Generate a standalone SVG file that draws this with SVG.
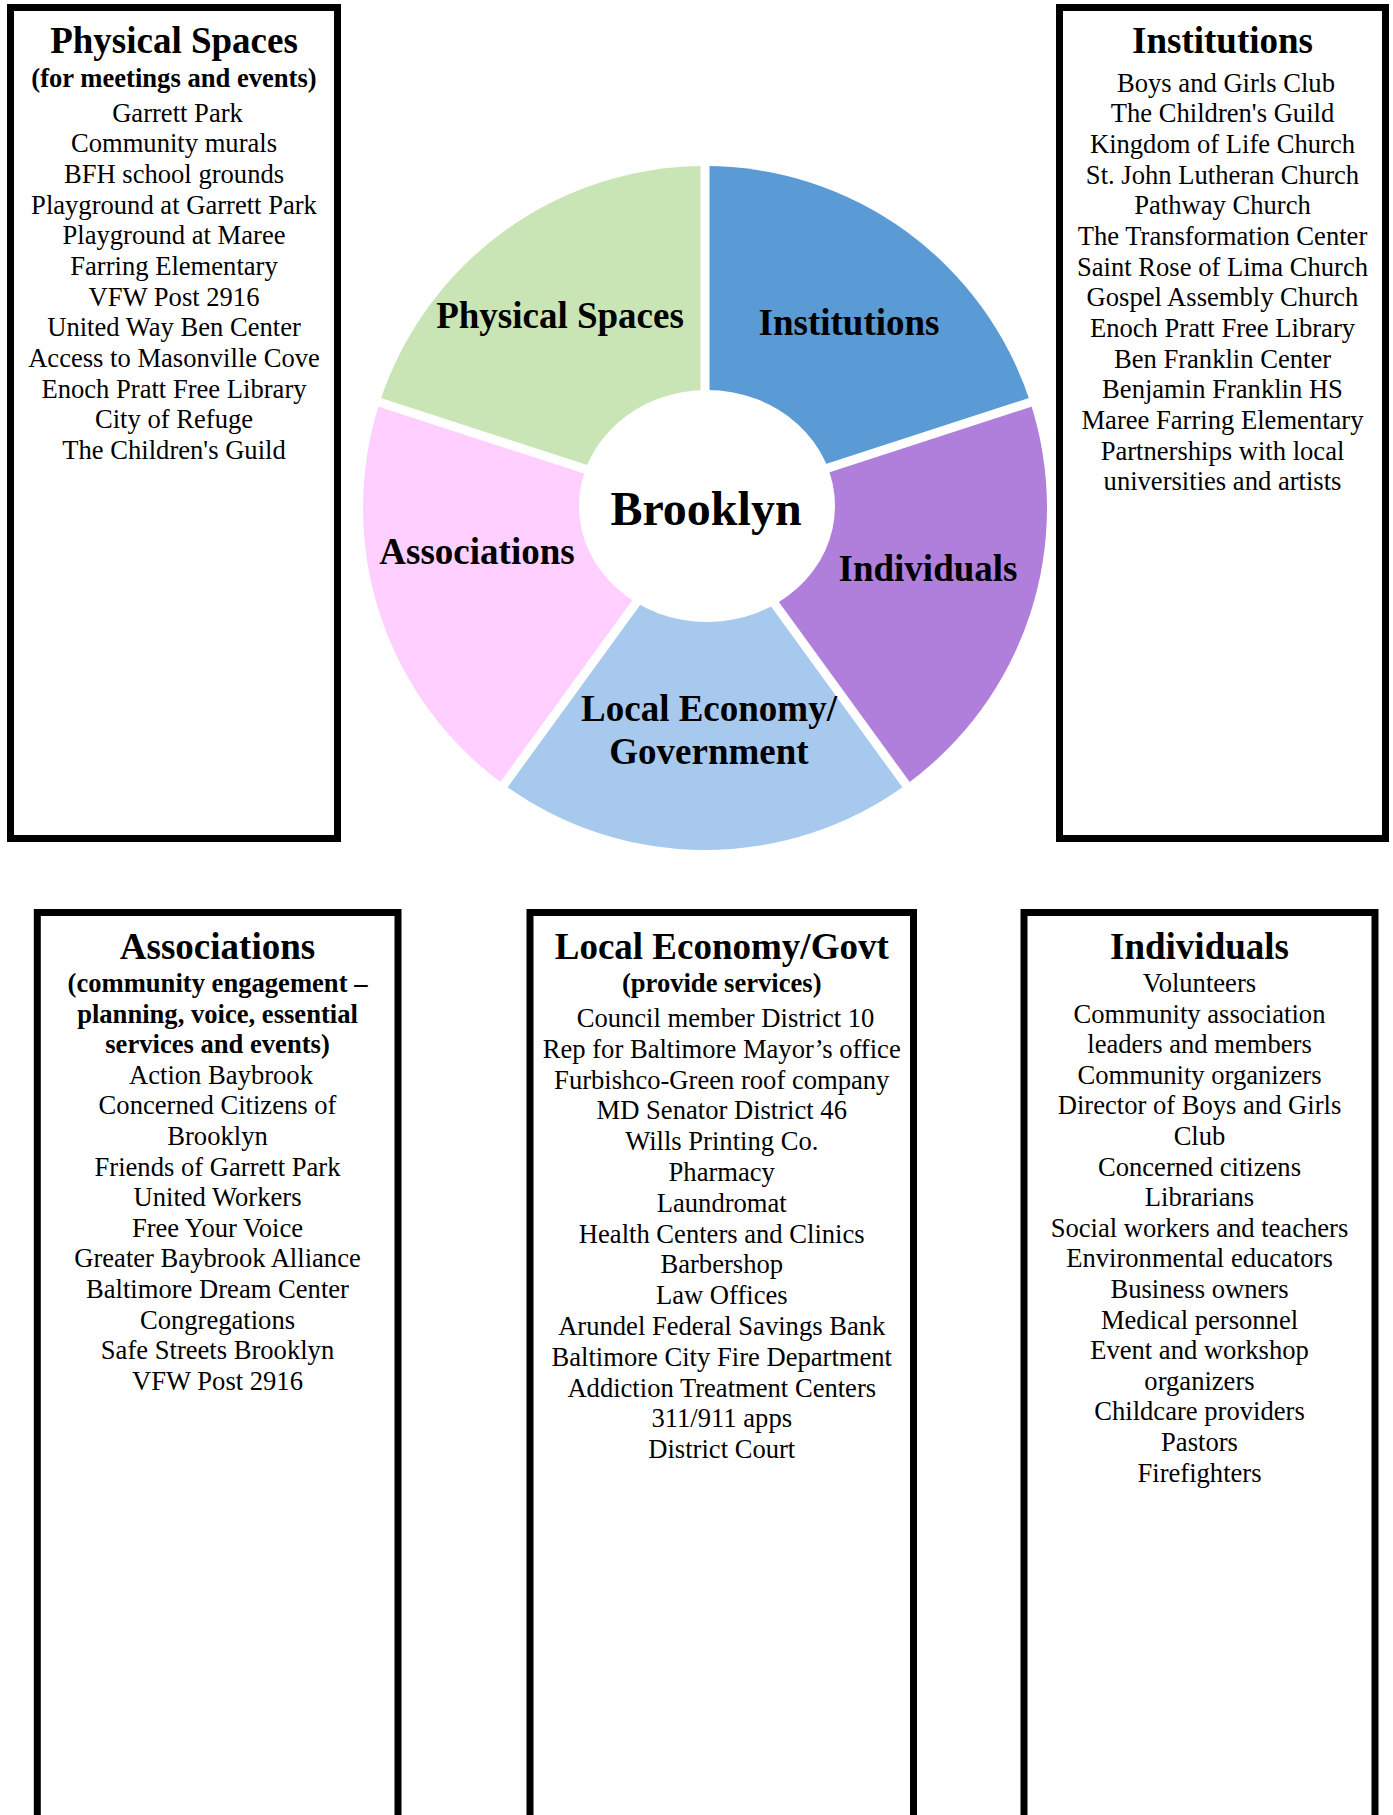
<svg xmlns="http://www.w3.org/2000/svg" width="1393" height="1815" viewBox="0 0 1393 1815">
  <style>
    .box { fill: none; stroke: #000; stroke-width: 7; }
    text { font-family: "Liberation Serif", "Times New Roman", serif; fill: #000; text-anchor: middle; }
    .title { font-size: 37px; font-weight: bold; }
    .sub { font-size: 26.6px; font-weight: bold; }
    .item { font-size: 26.6px; }
    .seg-label { font-size: 37px; font-weight: bold; }
    .hub { font-size: 48px; font-weight: bold; }
    .gap { stroke: #fff; stroke-width: 9; }
  </style>
  <rect width="1393" height="1815" fill="#fff"/>

  <!-- Asset wheel: five wedges split by white gaps around a white hub -->
  <g id="wheel">
    <g id="seg-institutions">
      <path d="M705,508 L705,166 A342,342 0 0 1 1030.27,402.32 Z" fill="#5B9BD5"/>
    </g>
    <g id="seg-individuals">
      <path d="M705,508 L1030.27,402.32 A342,342 0 0 1 906.03,784.68 Z" fill="#B07FDB"/>
    </g>
    <g id="seg-local-economy">
      <path d="M705,508 L906.03,784.68 A342,342 0 0 1 503.97,784.68 Z" fill="#A7C9EE"/>
    </g>
    <g id="seg-associations">
      <path d="M705,508 L503.97,784.68 A342,342 0 0 1 379.73,402.32 Z" fill="#FFD0FF"/>
    </g>
    <g id="seg-physical">
      <path d="M705,508 L379.73,402.32 A342,342 0 0 1 705,166 Z" fill="#C9E5B5"/>
    </g>
    <g id="wheel-gaps">
      <line class="gap" x1="705" y1="508" x2="705" y2="148"/>
      <line class="gap" x1="705" y1="508" x2="1047.4" y2="396.8"/>
      <line class="gap" x1="705" y1="508" x2="916.6" y2="799.2"/>
      <line class="gap" x1="705" y1="508" x2="493.4" y2="799.2"/>
      <line class="gap" x1="705" y1="508" x2="362.6" y2="396.8"/>
    </g>
    <g id="hub">
      <ellipse cx="707" cy="506" rx="128" ry="116" fill="#fff"/>
      <text class="hub" x="706" y="525">Brooklyn</text>
    </g>
    <text class="seg-label" x="560" y="328">Physical Spaces</text>
    <text class="seg-label" x="849" y="335">Institutions</text>
    <text class="seg-label" x="477" y="564">Associations</text>
    <text class="seg-label" x="928" y="581">Individuals</text>
    <text class="seg-label" x="709" y="721">Local Economy/</text>
    <text class="seg-label" x="709" y="764">Government</text>
  </g>

  <!-- Physical Spaces list -->
  <g id="box-physical">
    <rect class="box" x="10.5" y="7.5" width="327" height="831"/>
    <text class="title" x="174" y="53.3">Physical Spaces</text>
    <text class="sub" x="174" y="86.5">(for meetings and events)</text>
    <text class="item" x="177.5" y="121.7">Garrett Park</text>
    <text class="item" x="174" y="152.4">Community murals</text>
    <text class="item" x="174" y="183">BFH school grounds</text>
    <text class="item" x="174" y="213.7">Playground at Garrett Park</text>
    <text class="item" x="174" y="244.3">Playground at Maree</text>
    <text class="item" x="174" y="275">Farring Elementary</text>
    <text class="item" x="174" y="305.6">VFW Post 2916</text>
    <text class="item" x="174" y="336.3">United Way Ben Center</text>
    <text class="item" x="174" y="366.9">Access to Masonville Cove</text>
    <text class="item" x="174" y="397.6">Enoch Pratt Free Library</text>
    <text class="item" x="174" y="428.2">City of Refuge</text>
    <text class="item" x="174" y="458.9">The Children's Guild</text>
  </g>

  <!-- Institutions list -->
  <g id="box-institutions">
    <rect class="box" x="1059.5" y="7.5" width="326" height="831"/>
    <text class="title" x="1222.5" y="53.3">Institutions</text>
    <text class="item" x="1226" y="91.7">Boys and Girls Club</text>
    <text class="item" x="1222.5" y="122.4">The Children's Guild</text>
    <text class="item" x="1222.5" y="153">Kingdom of Life Church</text>
    <text class="item" x="1222.5" y="183.7">St. John Lutheran Church</text>
    <text class="item" x="1222.5" y="214.3">Pathway Church</text>
    <text class="item" x="1222.5" y="245">The Transformation Center</text>
    <text class="item" x="1222.5" y="275.6">Saint Rose of Lima Church</text>
    <text class="item" x="1222.5" y="306.3">Gospel Assembly Church</text>
    <text class="item" x="1222.5" y="336.9">Enoch Pratt Free Library</text>
    <text class="item" x="1222.5" y="367.6">Ben Franklin Center</text>
    <text class="item" x="1222.5" y="398.2">Benjamin Franklin HS</text>
    <text class="item" x="1222.5" y="428.9">Maree Farring Elementary</text>
    <text class="item" x="1222.5" y="459.5">Partnerships with local</text>
    <text class="item" x="1222.5" y="490.2">universities and artists</text>
  </g>

  <!-- Associations list (box runs off the bottom edge) -->
  <g id="box-associations">
    <rect class="box" x="37.3" y="912.5" width="360.7" height="940"/>
    <text class="title" x="217.5" y="959">Associations</text>
    <text class="sub" x="217.5" y="992">(community engagement –</text>
    <text class="sub" x="217.5" y="1022.6">planning, voice, essential</text>
    <text class="sub" x="217.5" y="1053.2">services and events)</text>
    <text class="item" x="221" y="1083.8">Action Baybrook</text>
    <text class="item" x="217.5" y="1114.4">Concerned Citizens of</text>
    <text class="item" x="217.5" y="1145">Brooklyn</text>
    <text class="item" x="217.5" y="1175.6">Friends of Garrett Park</text>
    <text class="item" x="217.5" y="1206.2">United Workers</text>
    <text class="item" x="217.5" y="1236.8">Free Your Voice</text>
    <text class="item" x="217.5" y="1267.4">Greater Baybrook Alliance</text>
    <text class="item" x="217.5" y="1298">Baltimore Dream Center</text>
    <text class="item" x="217.5" y="1328.6">Congregations</text>
    <text class="item" x="217.5" y="1359.2">Safe Streets Brooklyn</text>
    <text class="item" x="217.5" y="1389.8">VFW Post 2916</text>
  </g>

  <!-- Local Economy / Government list -->
  <g id="box-local-economy">
    <rect class="box" x="530" y="912.5" width="383.5" height="940"/>
    <text class="title" x="721.75" y="959">Local Economy/Govt</text>
    <text class="sub" x="721.75" y="991.6">(provide services)</text>
    <text class="item" x="725.5" y="1027">Council member District 10</text>
    <text class="item" x="721.75" y="1057.8">Rep for Baltimore Mayor’s office</text>
    <text class="item" x="721.75" y="1088.6">Furbishco-Green roof company</text>
    <text class="item" x="721.75" y="1119.4">MD Senator District 46</text>
    <text class="item" x="721.75" y="1150.2">Wills Printing Co.</text>
    <text class="item" x="721.75" y="1181">Pharmacy</text>
    <text class="item" x="721.75" y="1211.8">Laundromat</text>
    <text class="item" x="721.75" y="1242.6">Health Centers and Clinics</text>
    <text class="item" x="721.75" y="1273.4">Barbershop</text>
    <text class="item" x="721.75" y="1304.2">Law Offices</text>
    <text class="item" x="721.75" y="1335">Arundel Federal Savings Bank</text>
    <text class="item" x="721.75" y="1365.8">Baltimore City Fire Department</text>
    <text class="item" x="721.75" y="1396.6">Addiction Treatment Centers</text>
    <text class="item" x="721.75" y="1427.4">311/911 apps</text>
    <text class="item" x="721.75" y="1458.2">District Court</text>
  </g>

  <!-- Individuals list -->
  <g id="box-individuals">
    <rect class="box" x="1024" y="912.5" width="351" height="940"/>
    <text class="title" x="1199.5" y="959">Individuals</text>
    <text class="item" x="1199.5" y="992">Volunteers</text>
    <text class="item" x="1199.5" y="1022.6">Community association</text>
    <text class="item" x="1199.5" y="1053.2">leaders and members</text>
    <text class="item" x="1199.5" y="1083.8">Community organizers</text>
    <text class="item" x="1199.5" y="1114.4">Director of Boys and Girls</text>
    <text class="item" x="1199.5" y="1145">Club</text>
    <text class="item" x="1199.5" y="1175.6">Concerned citizens</text>
    <text class="item" x="1199.5" y="1206.2">Librarians</text>
    <text class="item" x="1199.5" y="1236.8">Social workers and teachers</text>
    <text class="item" x="1199.5" y="1267.4">Environmental educators</text>
    <text class="item" x="1199.5" y="1298">Business owners</text>
    <text class="item" x="1199.5" y="1328.6">Medical personnel</text>
    <text class="item" x="1199.5" y="1359.2">Event and workshop</text>
    <text class="item" x="1199.5" y="1389.8">organizers</text>
    <text class="item" x="1199.5" y="1420.4">Childcare providers</text>
    <text class="item" x="1199.5" y="1451">Pastors</text>
    <text class="item" x="1199.5" y="1481.6">Firefighters</text>
  </g>

  <!-- The figure has no connectors; kept as an empty layer -->
  <g id="connectors"/>
</svg>
